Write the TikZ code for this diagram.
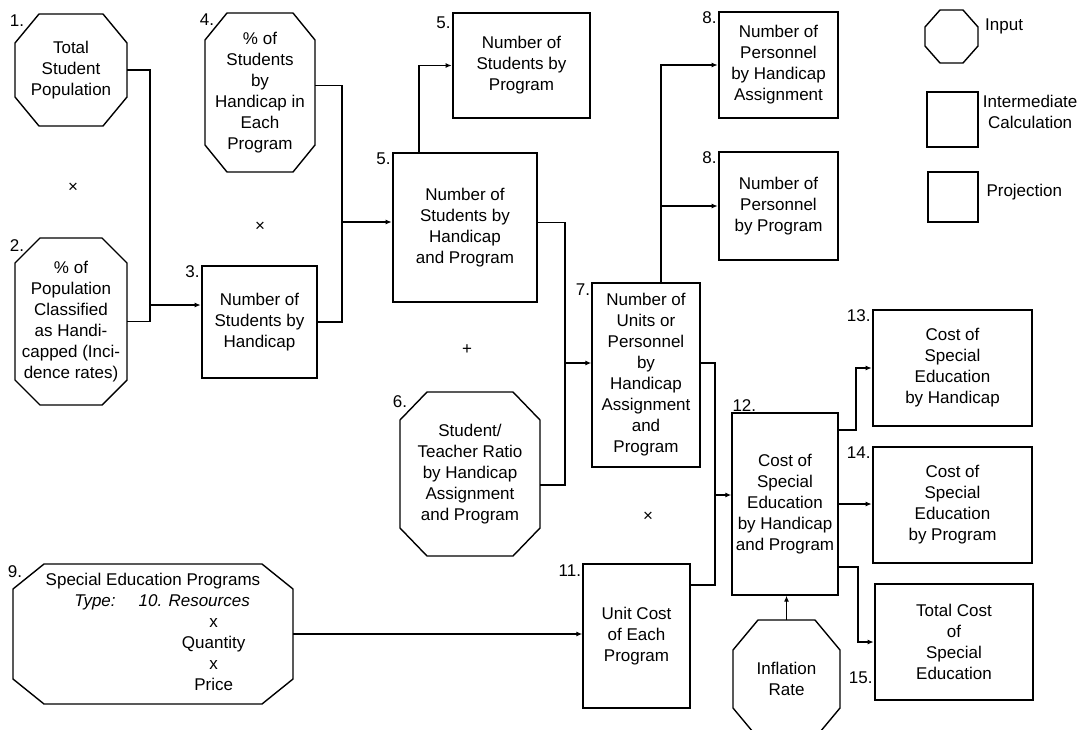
\documentclass[tikz,border=0pt]{standalone}
\usepackage{fontspec}
\setmainfont{Liberation Sans}
\usetikzlibrary{arrows.meta,positioning}
% octagonal frame round a node: node, horizontal cut, vertical cut
\newcommand{\octframe}[3]{%
  \draw[line width=1.4pt]
    ([xshift=#2]#1.north west) -- ([xshift=-#2]#1.north east)
    -- ([yshift=-#3]#1.north east) -- ([yshift=#3]#1.south east)
    -- ([xshift=-#2]#1.south east) -- ([xshift=#2]#1.south west)
    -- ([yshift=#3]#1.south west) -- ([yshift=-#3]#1.north west) -- cycle;}

\begin{document}
\begin{tikzpicture}[
  x=1pt, y=-1pt,
  font=\fontsize{17}{21}\selectfont,
  inp/.style={
    align=center,
    inner sep=2pt,
    outer sep=0pt
  },
  interm/.style={
    draw,
    line width=1.4pt,
    align=center,
    inner sep=2pt
  },
  proj/.style={
    draw,
    line width=2.6pt,
    align=center,
    inner sep=2pt
  },
  num/.style={inner sep=1pt},
  legtext/.style={inner sep=0pt, align=left},
  link/.style={line width=1.8pt},
  arrow/.style={-{Latex[length=6pt,width=5pt]},line width=1.8pt}
]
\path[use as bounding box, clip] (0,0) rectangle (1087,729);

% inputs
\node[inp, minimum width=112pt, minimum height=112pt] (o1) at (71,70) {Total\\Student\\Population};
\node[inp, minimum width=112pt, minimum height=167pt] (o2) at (71,321.5) {\% of\\Population\\Classified\\as Handi-\\capped (Inci-\\dence rates)};
\node[inp, minimum width=110pt, minimum height=159pt] (o4) at (260,92.5) {\% of\\Students\\by\\Handicap in\\Each\\Program};
\node[inp, minimum width=140pt, minimum height=164pt] (o6) at (470,474) {Student/\\Teacher Ratio\\by Handicap\\Assignment\\and Program};
\node[inp, minimum width=280pt, minimum height=140pt] (o9) at (153,634) {%
  \begin{tabular}{@{\hspace{57pt}}r@{\hspace{23pt}}l@{}}
  \multicolumn{2}{c}{Special Education Programs}\\
  \textit{Type:} & \textit{10. Resources}\\
   & \makebox[150pt]{x}\\
   & \makebox[150pt]{Quantity}\\
   & \makebox[150pt]{x}\\
   & \makebox[150pt]{Price}
  \end{tabular}};
\node[inp, minimum width=107pt, minimum height=118pt] (oinf) at (786.5,679) {Inflation\\Rate};
\octframe{o1}{24pt}{29pt}
\octframe{o2}{25pt}{25pt}
\octframe{o4}{22pt}{27pt}
\octframe{o6}{27pt}{28pt}
\octframe{o9}{31pt}{25pt}
\octframe{oinf}{25pt}{30pt}

% calculations and projections
\node[proj, minimum width=115pt, minimum height=112pt] (b3) at (259.5,322) {Number of\\Students by\\Handicap};
\node[proj, minimum width=137pt, minimum height=105pt] (b5p) at (521.5,65.5) {Number of\\Students by\\Program};
\node[proj, minimum width=144pt, minimum height=149pt] (b5) at (465,227.5) {Number of\\Students by\\Handicap\\and Program};
\node[interm, minimum width=108pt, minimum height=184pt] (b7) at (646,375) {Number of\\Units or\\Personnel\\by\\Handicap\\Assignment\\and\\Program};
\node[proj, minimum width=119pt, minimum height=106pt] (b8a) at (778.5,65) {Number of\\Personnel\\by Handicap\\Assignment};
\node[proj, minimum width=119pt, minimum height=108pt] (b8b) at (778.5,206) {Number of\\Personnel\\by Program};
\node[interm, minimum width=107pt, minimum height=144pt] (b11) at (636.5,636) {Unit Cost\\of Each\\Program};
\node[interm, minimum width=106pt, minimum height=182pt] (b12) at (785,504) {Cost of\\Special\\Education\\by Handicap\\and Program};
\node[proj, minimum width=159pt, minimum height=116pt] (b13) at (952.5,368) {Cost of\\Special\\Education\\by Handicap};
\node[proj, minimum width=159pt, minimum height=116pt] (b14) at (952.5,505) {Cost of\\Special\\Education\\by Program};
\node[proj, minimum width=158pt, minimum height=116pt] (b15) at (954,642) {Total Cost\\of\\Special\\Education};

% numbers
\node[num, anchor=north] (n1) at ([xshift=2pt]o1.north west) {1.};
\node[num, anchor=north] (n2) at ([xshift=2pt]o2.north west) {2.};
\node[num, anchor=north] (n4) at ([xshift=2pt]o4.north west) {4.};
\node[num, anchor=north] (n6) at ([yshift=-2pt]o6.north west) {6.};
\node[num, anchor=north] (n9) at ([xshift=2pt]o9.north west) {9.};
\node[num, anchor=north east] (n3) at (b3.north west) {3.};
\node[num, anchor=north east] (n5p) at ([yshift=-4pt]b5p.north west) {5.};
\node[num, anchor=north east] (n5) at (b5.north west) {5.};
\node[num, anchor=north east] (n7) at (b7.north west) {7.};
\node[num, anchor=north east] (n8a) at (b8a.north west) {8.};
\node[num, anchor=north east] (n8b) at (b8b.north west) {8.};
\node[num, anchor=north east] (n11) at (b11.north west) {11.};
\node[num, anchor=south west] (n12) at (b12.north west) {12.};
\node[num, anchor=north east] (n13) at (b13.north west) {13.};
\node[num, anchor=north east] (n14) at (b14.north west) {14.};
\node[num, anchor=south east] (n15) at ([yshift=16pt]b15.south west) {15.};

% operators
\node (mul1) at (73,188) {×};
\node (mul2) at (260,227) {×};
\node (plus) at (467,350) {+};
\node (mul3) at (648,517) {×};

% legend
\node[inp, minimum width=53pt, minimum height=53pt] (lo) at (951.5,36.5) {};
\octframe{lo}{15pt}{17pt}
\node[interm, minimum width=51pt, minimum height=55pt] (li) at (952.5,119.5) {};
\node[proj, minimum width=50pt, minimum height=50pt] (lp) at (953,197) {};
\node[legtext, right=7pt of lo, yshift=10pt] (tin) {Input};
\node[legtext, right=4pt of li, yshift=8pt, align=center] (tli) {Intermediate\\Calculation};
\node[legtext, right=7pt of lp, yshift=5pt] (tlp) {Projection};

% junctions
\coordinate (j1) at (150,305);
\coordinate (j2) at (342,222);
\coordinate (j3) at (565,363);
\coordinate (j5) at (715,495);

\draw[link] (o1.east) -| (j1);
\draw[link] (o2.east) -| (j1);
\draw[arrow] (j1) -- (j1 -| b3.west);
\draw[link] ([yshift=7pt]o4.east) -| (j2);
\draw[link] (b3.east) -| (j2);
\draw[arrow] (j2) -- (j2 -| b5.west);
\draw[arrow] ([xshift=-46pt]b5.north) |- (b5p.west);
\draw[link] ([yshift=5pt]b5.east) -| (j3);
\draw[link] ([yshift=-11pt]o6.east) -| (j3);
\draw[arrow] (j3) -- (j3 -| b7.west);
\draw[arrow] ([xshift=15pt]b7.north) |- (b8a.west);
\draw[arrow] ([xshift=15pt]b7.north) |- (b8b.west);
\draw[link] ([yshift=12pt]b7.east) -| (j5);
\draw[link] ([yshift=51pt]b11.east) -| (j5);
\draw[arrow] (j5) -- (j5 -| b12.west);
\draw[arrow] (o9.east) -- (o9.east -| b11.west);
\draw[arrow] (oinf.north) -- (oinf.north |- b12.south);
\draw[arrow] ([yshift=74pt]b12.east) -| ([xshift=-16pt]b13.west) -- (b13.west);
\draw[arrow] (b12.east) -- (b12.east -| b14.west);
\draw[arrow] ([yshift=-63pt]b12.east) -| ([xshift=-16pt]b15.west) -- (b15.west);
\end{tikzpicture}
\end{document}
